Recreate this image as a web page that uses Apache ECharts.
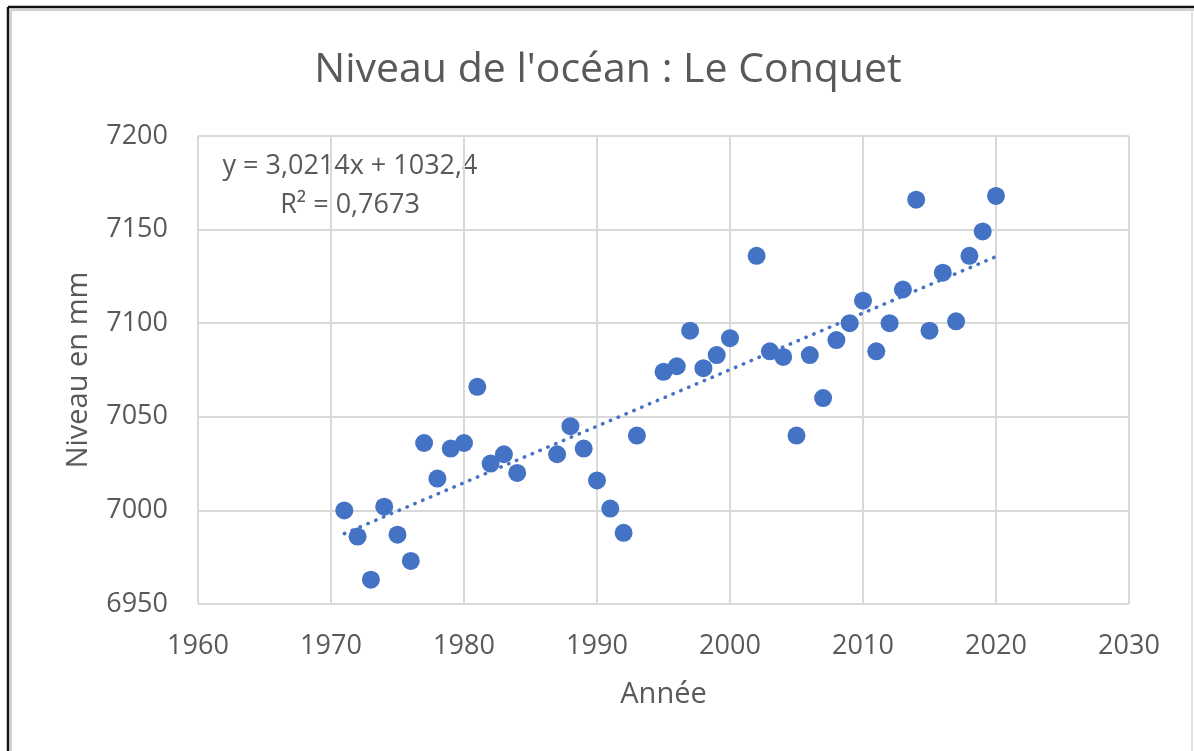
<!DOCTYPE html>
<html>
<head>
<meta charset="utf-8">
<script src="https://cdn.jsdelivr.net/npm/echarts@6/dist/echarts.min.js"></script>
<style>
html,body{margin:0;padding:0;background:#fff;}
#chart{width:1194px;height:751px;}
</style>
</head>
<body>
<div id="chart"></div>
<script>
const years = [1971,1972,1973,1974,1975,1976,1977,1978,1979,1980,1981,1982,1983,1984,
  1987,1988,1989,1990,1991,1992,1993,1995,1996,1997,1998,1999,2000,2002,2003,2004,2005,2006,2007,
  2008,2009,2010,2011,2012,2013,2014,2015,2016,2017,2018,2019,2020];
const levels = [7000,6986,6963,7002,6987,6973,7036,7017,7033,7036,7066,7025,7030,7020,
  7030,7045,7033,7016,7001,6988,7040,7074,7077,7096,7076,7083,7092,7136,7085,7082,7040,7083,7060,
  7091,7100,7112,7085,7100,7118,7166,7096,7127,7101,7136,7149,7168];
const trendYears = [1971, 2020];
const trendLevels = [6987.6, 7135.6];
const xTicks = [1960, 2030, 10];
const yTicks = [6950, 7200, 50];
const titleText = "Niveau de l'océan : Le Conquet";
const xName = "Année";
const yName = "Niveau en mm";
const eqLine1 = "y = 3,0214x + 1032,4";
const eqLine2 = "R² = 0,7673";

const FONT = "'Open Sans', 'Noto Sans', sans-serif";
const TXT = '#595959';
const BLUE = '#4472C4';

const chart = echarts.init(document.getElementById('chart'), null, {renderer: 'canvas'});
chart.setOption({
  backgroundColor: '#fff',
  animation: false,
  title: {
    text: titleText, left: 603, top: 45, textAlign: 'center',
    textStyle: {fontFamily: FONT, fontSize: 41, fontWeight: 'normal', color: TXT}
  },
  grid: {left: 198, right: 65, top: 136, bottom: 147, containLabel: false},
  xAxis: {
    type: 'value', min: xTicks[0], max: xTicks[1], interval: xTicks[2],
    name: xName, nameLocation: 'middle', nameGap: 76,
    nameTextStyle: {fontFamily: FONT, fontSize: 29, color: TXT},
    axisLine: {show: false}, axisTick: {show: false},
    axisLabel: {fontFamily: FONT, fontSize: 27, color: TXT, margin: 29, formatter: v => String(v)},
    splitLine: {show: true, lineStyle: {color: '#d9d9d9', width: 2}}
  },
  yAxis: {
    type: 'value', min: yTicks[0], max: yTicks[1], interval: yTicks[2],
    name: yName, nameLocation: 'middle', nameGap: 105,
    nameTextStyle: {fontFamily: FONT, fontSize: 29, color: TXT},
    axisLine: {show: false}, axisTick: {show: false},
    axisLabel: {fontFamily: FONT, fontSize: 27, color: TXT, margin: 30, formatter: v => String(v)},
    splitLine: {show: true, lineStyle: {color: '#d9d9d9', width: 2}}
  },
  series: [
    {
      type: 'line', data: trendYears.map((x, i) => [x, trendLevels[i]]),
      symbol: 'none', z: 3,
      lineStyle: {color: BLUE, width: 3.5, type: [0.5, 8], cap: 'round'}
    },
    {
      type: 'scatter', data: years.map((x, i) => [x, levels[i]]),
      symbol: 'circle', symbolSize: 18, z: 2,
      itemStyle: {color: BLUE, opacity: 1}
    }
  ],
  graphic: [
    {type: 'text', x: 350, y: 166, style: {text: eqLine1, fontFamily: FONT, fontSize: 27, fill: TXT, align: 'center', verticalAlign: 'middle'}},
    {type: 'text', x: 350, y: 205, style: {text: eqLine2, fontFamily: FONT, fontSize: 27, fill: TXT, align: 'center', verticalAlign: 'middle'}},
    {type: 'line', shape: {x1: 11, y1: 10, x2: 1194, y2: 10}, style: {stroke: '#d0d0d0', lineWidth: 2}},
    {type: 'line', shape: {x1: 11, y1: 10, x2: 11, y2: 751}, style: {stroke: '#d0d0d0', lineWidth: 2}},
    {type: 'line', shape: {x1: 1192, y1: 10, x2: 1192, y2: 751}, style: {stroke: '#e0e0e0', lineWidth: 2}},
    {type: 'line', shape: {x1: 8, y1: 7, x2: 1194, y2: 7}, style: {stroke: '#111', lineWidth: 2.5}},
    {type: 'line', shape: {x1: 8, y1: 7, x2: 8, y2: 751}, style: {stroke: '#111', lineWidth: 2.5}}
  ]
});
</script>
</body>
</html>
